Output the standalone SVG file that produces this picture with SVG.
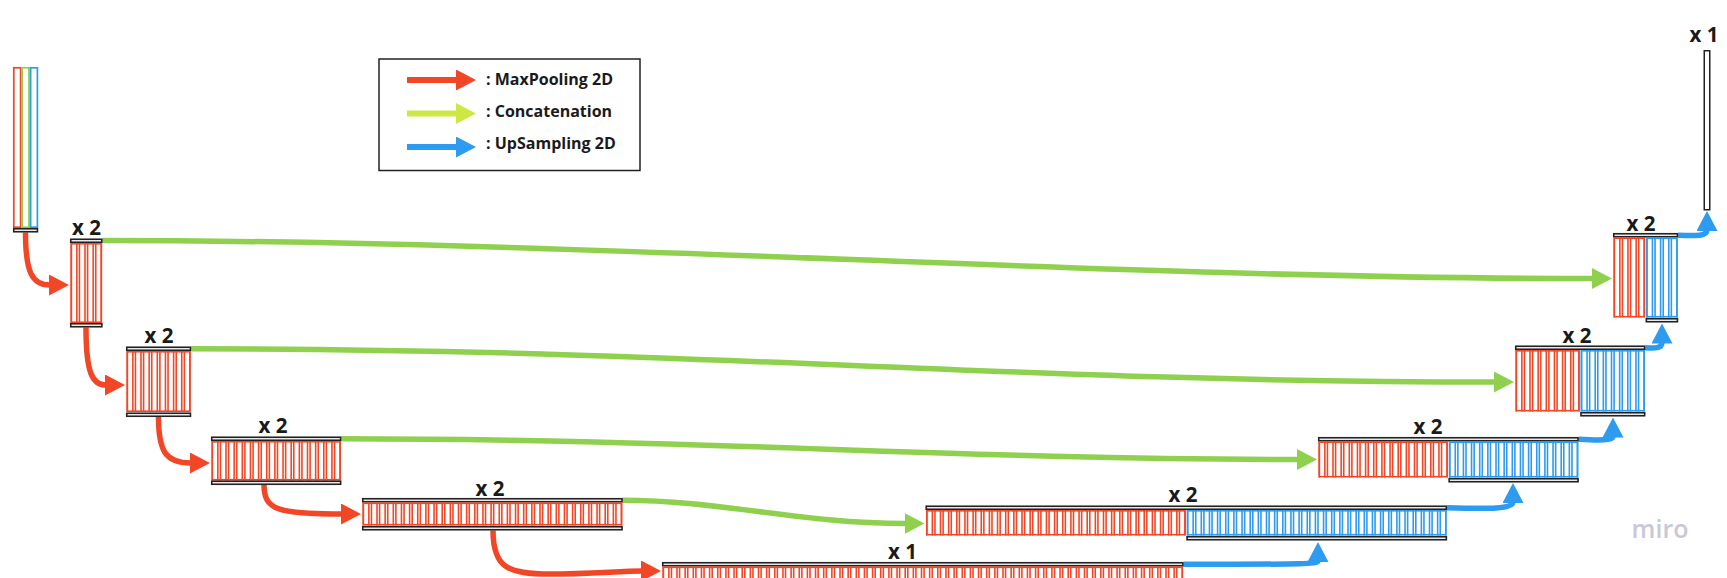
<svg xmlns="http://www.w3.org/2000/svg" width="1727" height="578" viewBox="0 0 1727 578">
<style>
.bar{fill:#f4f4f4;stroke:#222;stroke-width:1.6}
.cr,.cb{fill:none;stroke-dasharray:1.6 3.95 1.6 1;stroke-dashoffset:-0.5}
.cr{stroke:#f24726}
.cb{stroke:#2d9bf0}
.or{fill:none;stroke:#f24726;stroke-width:1.6}
.ob{fill:none;stroke:#2d9bf0;stroke-width:1.6}
.lbl{font-family:"Open Sans","Liberation Sans",sans-serif;font-weight:700;font-size:20.5px;fill:#1a1a1a;text-anchor:middle}
.leg{font-family:"Open Sans","Liberation Sans",sans-serif;font-weight:700;font-size:16px;fill:#1a1a1a}
.ar{fill:none;stroke:#f24726;stroke-width:5.5;marker-end:url(#mr)}
.ag{fill:none;stroke:#8fd14f;stroke-width:5.5;marker-end:url(#mg)}
.ab{fill:none;stroke:#2d9bf0;stroke-width:5.5;marker-end:url(#mb)}
.agl{fill:none;stroke:#cee741;stroke-width:6;marker-end:url(#mgl)}
.arl{fill:none;stroke:#f24726;stroke-width:6;marker-end:url(#mr)}
.abl{fill:none;stroke:#2d9bf0;stroke-width:6;marker-end:url(#mb)}
</style>
<defs>
<marker id="mr" markerUnits="userSpaceOnUse" markerWidth="20" markerHeight="21" refX="1" refY="10.5" orient="auto"><path d="M0,0 L20,10.5 L0,21 Z" fill="#f24726"/></marker>
<marker id="mg" markerUnits="userSpaceOnUse" markerWidth="20" markerHeight="21" refX="1" refY="10.5" orient="auto"><path d="M0,0 L20,10.5 L0,21 Z" fill="#8fd14f"/></marker>
<marker id="mb" markerUnits="userSpaceOnUse" markerWidth="20" markerHeight="21" refX="1" refY="10.5" orient="auto"><path d="M0,0 L20,10.5 L0,21 Z" fill="#2d9bf0"/></marker>
<marker id="mgl" markerUnits="userSpaceOnUse" markerWidth="20" markerHeight="21" refX="1" refY="10.5" orient="auto"><path d="M0,0 L20,10.5 L0,21 Z" fill="#cee741"/></marker>
</defs>
<rect width="1727" height="578" fill="#fff"/>

<g id="legend">
<rect x="379" y="59" width="261" height="111.5" fill="#fff" stroke="#222" stroke-width="1.5"/>
<path class="arl" d="M407,80 L457,80"/>
<path class="agl" d="M407,113.5 L457,113.5"/>
<path class="abl" d="M407,147 L457,147"/>
<text class="leg" x="486" y="85">: MaxPooling 2D</text>
<text class="leg" x="486" y="117">: Concatenation</text>
<text class="leg" x="486" y="149">: UpSampling 2D</text>
</g>

<g id="connectors">
<path class="ar" d="M25.5,232.5 C25.5,272 32,285 50,285"/>
<path class="ar" d="M86,327.5 C86,372 92,385 106,385"/>
<path class="ar" d="M158.5,417 C158.5,452 166,463 191,463"/>
<path class="ar" d="M264,485 C264,510 278,514 342,514"/>
<path class="ar" d="M493,530.5 C493,568 508,574 550,574 C590,574 620,571 642,571"/>
<path class="ag" d="M102.6,240.5 C600,240.5 1100,278.5 1593,278.5"/>
<path class="ag" d="M191.2,348.7 C700,348.7 1000,382 1495,382"/>
<path class="ag" d="M341.4,438.7 C700,438.7 950,459.5 1298,459.5"/>
<path class="ag" d="M622.8,500.3 C720,500.3 800,523.5 905.5,523.5"/>
<path class="ab" d="M1183.6,564.25 C1280,564 1318,565 1318,561"/>
<path class="ab" d="M1447.1,507.75 C1490,509 1513,509 1513,502"/>
<path class="ab" d="M1578.8,439.25 C1600,440.5 1613,440.5 1613,436.5"/>
<path class="ab" d="M1645.4,347.75 C1655,348.5 1662,348.5 1662,342.5"/>
<path class="ab" d="M1678.2,235.25 C1697,236 1707,236 1707,230"/>
</g>

<g id="input">
<rect x="13.8" y="67.8" width="6.8" height="159.4" fill="#fff" stroke="#f24726" stroke-width="1.7"/>
<rect x="22.2" y="67.8" width="6.8" height="159.4" fill="#fff" stroke="#8fd14f" stroke-width="1.7"/>
<rect x="30.6" y="67.8" width="6.8" height="159.4" fill="#fff" stroke="#2d9bf0" stroke-width="1.7"/>
<rect class="bar" x="13.75" y="228.75" width="23.7" height="3"/>
</g>

<g id="enc1">
<text class="lbl" x="86.5" y="235">x 2</text>
<rect class="bar" x="70.75" y="239.25" width="31.1" height="3"/>
<line class="cr" x1="70" y1="283" x2="102.6" y2="283" stroke-width="80"/>
<rect class="or" x="71.3" y="243.8" width="30" height="78.4"/>
<rect class="bar" x="70.75" y="323.75" width="31.1" height="3"/>
</g>

<g id="enc2">
<text class="lbl" x="159" y="342.5">x 2</text>
<rect class="bar" x="126.75" y="347.25" width="63.7" height="3"/>
<line class="cr" x1="126" y1="381.5" x2="191.2" y2="381.5" stroke-width="61"/>
<rect class="or" x="127.3" y="351.8" width="62.6" height="59.4"/>
<rect class="bar" x="126.75" y="413.25" width="63.7" height="3"/>
</g>

<g id="enc3">
<text class="lbl" x="273" y="433">x 2</text>
<rect class="bar" x="211.75" y="437.25" width="128.9" height="3"/>
<line class="cr" x1="211" y1="460.75" x2="341.4" y2="460.75" stroke-width="39.5"/>
<rect class="or" x="212.3" y="441.8" width="127.8" height="37.9"/>
<rect class="bar" x="211.75" y="481.25" width="128.9" height="3"/>
</g>

<g id="enc4">
<text class="lbl" x="490" y="495.5">x 2</text>
<rect class="bar" x="362.75" y="498.75" width="259.3" height="3"/>
<line class="cr" x1="362" y1="514" x2="622.8" y2="514" stroke-width="23"/>
<rect class="or" x="363.3" y="503.3" width="258.2" height="21.4"/>
<rect class="bar" x="362.75" y="526.75" width="259.3" height="3"/>
</g>

<g id="bottleneck">
<text class="lbl" x="902.5" y="558.5">x 1</text>
<rect class="bar" x="662.75" y="562.75" width="520.1" height="3"/>
<line class="cr" x1="662" y1="583.25" x2="1183.6" y2="583.25" stroke-width="33.5"/>
<rect class="or" x="663.3" y="567.3" width="519" height="40"/>
</g>

<g id="dec4">
<text class="lbl" x="1183" y="502">x 2</text>
<rect class="bar" x="926.25" y="506.25" width="520.1" height="3"/>
<line class="cr" x1="925.5" y1="522.75" x2="1186.3" y2="522.75" stroke-width="25.5"/>
<rect class="or" x="926.8" y="510.8" width="258.2" height="23.9"/>
<line class="cb" x1="1186.3" y1="522.75" x2="1447.1" y2="522.75" stroke-width="25.5"/>
<rect class="ob" x="1187.6" y="510.8" width="258.2" height="23.9"/>
<rect class="bar" x="1187.05" y="536.75" width="259.3" height="3"/>
</g>

<g id="dec3">
<text class="lbl" x="1428" y="434">x 2</text>
<rect class="bar" x="1318.75" y="437.75" width="259.3" height="3"/>
<line class="cr" x1="1318" y1="459.5" x2="1448.4" y2="459.5" stroke-width="36"/>
<rect class="or" x="1319.3" y="442.3" width="127.8" height="34.4"/>
<line class="cb" x1="1448.4" y1="459.5" x2="1578.8" y2="459.5" stroke-width="36"/>
<rect class="ob" x="1449.7" y="442.3" width="127.8" height="34.4"/>
<rect class="bar" x="1449.15" y="478.75" width="128.9" height="3"/>
</g>

<g id="dec2">
<text class="lbl" x="1577" y="342.5">x 2</text>
<rect class="bar" x="1515.75" y="346.25" width="128.9" height="3"/>
<line class="cr" x1="1515" y1="380.75" x2="1580.2" y2="380.75" stroke-width="61.5"/>
<rect class="or" x="1516.3" y="350.8" width="62.6" height="59.9"/>
<line class="cb" x1="1580.2" y1="380.75" x2="1645.4" y2="380.75" stroke-width="61.5"/>
<rect class="ob" x="1581.5" y="350.8" width="62.6" height="59.9"/>
<rect class="bar" x="1580.95" y="412.75" width="63.7" height="3"/>
</g>

<g id="dec1">
<text class="lbl" x="1641" y="230.5">x 2</text>
<rect class="bar" x="1613.75" y="233.75" width="63.7" height="3"/>
<line class="cr" x1="1613" y1="277.5" x2="1645.6" y2="277.5" stroke-width="80"/>
<rect class="or" x="1614.3" y="238.3" width="30" height="78.4"/>
<line class="cb" x1="1645.6" y1="277.5" x2="1678.2" y2="277.5" stroke-width="80"/>
<rect class="ob" x="1646.9" y="238.3" width="30" height="78.4"/>
<rect class="bar" x="1646.35" y="318.75" width="31.1" height="3"/>
</g>

<g id="output">
<text class="lbl" x="1704" y="42">x 1</text>
<rect x="1704.25" y="50.75" width="5.5" height="159" fill="#fff" stroke="#222" stroke-width="1.5"/>
</g>

<text x="1660" y="538" text-anchor="middle" font-family="'Open Sans','Liberation Sans',sans-serif" font-weight="600" font-size="25" fill="#cac8d6">miro</text>
</svg>
